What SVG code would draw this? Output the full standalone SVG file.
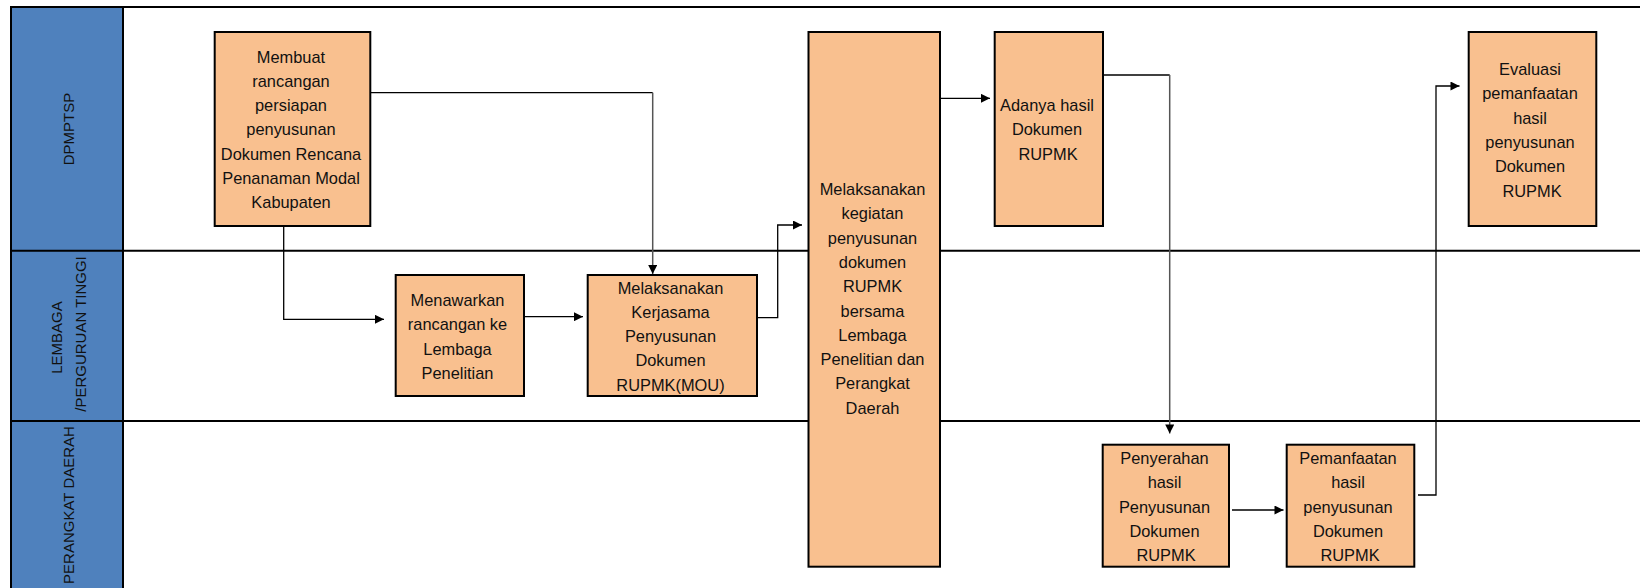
<svg xmlns="http://www.w3.org/2000/svg" width="1640" height="588" viewBox="0 0 1640 588">
<style>
.lane{fill:#ffffff;stroke:none}
.hdr{fill:#4F81BD;stroke:#000;stroke-width:2}
.ln{stroke:#000;stroke-width:2;fill:none}
.box{fill:#F9C08F;stroke:#000;stroke-width:2}
.t{font-family:"Liberation Sans",Arial,sans-serif;font-size:16.4px;fill:#111;text-anchor:middle}
.h{font-family:"Liberation Sans",Arial,sans-serif;font-size:15px;fill:#111;text-anchor:middle}
.c{stroke:#000;stroke-width:1.3;fill:none}
.cg{stroke:#555;stroke-width:1.5;fill:none}
</style>
<defs>
<marker id="ar" viewBox="0 0 10 10" refX="10" refY="5" markerWidth="10" markerHeight="9" markerUnits="userSpaceOnUse" orient="auto">
<path d="M0,0 L10,5 L0,10 Z" fill="#000"/>
</marker>
</defs>
<rect x="0" y="0" width="1640" height="588" fill="#fff"/>
<g id="lanes">
<rect class="hdr" x="11" y="7" width="112" height="590"/>
<line class="ln" x1="11" y1="7" x2="1640" y2="7"/>
<line class="ln" x1="11" y1="250.7" x2="1640" y2="250.7"/>
<line class="ln" x1="11" y1="421" x2="1640" y2="421"/>
<text class="h" transform="translate(74,129) rotate(-90)">DPMPTSP</text>
<text class="h" transform="translate(61.5,337.5) rotate(-90)">LEMBAGA</text>
<text class="h" transform="translate(86,334) rotate(-90)">/PERGURUAN TINGGI</text>
<text class="h" transform="translate(74,505) rotate(-90)">PERANGKAT DAERAH</text>
</g>
<g id="connectors">
<polyline class="c" points="370.3,92.7 652.7,92.7"/>
<polyline class="cg" points="652.7,92.7 652.7,274" marker-end="url(#ar)"/>
<polyline class="c" points="283.7,226 283.7,319.3 384,319.3" marker-end="url(#ar)"/>
<polyline class="c" points="524,316.7 583,316.7" marker-end="url(#ar)"/>
<polyline class="c" points="757,317.7 777.7,317.7 777.7,225 802,225" marker-end="url(#ar)"/>
<polyline class="c" points="940,98.3 990,98.3" marker-end="url(#ar)"/>
<polyline class="c" points="1103,75 1169.7,75"/>
<polyline class="cg" points="1169.7,75 1169.7,433.5" marker-end="url(#ar)"/>
<polyline class="c" points="1232,510 1283.5,510" marker-end="url(#ar)"/>
<polyline class="c" points="1418,495 1436,495 1436,86 1459.5,86" marker-end="url(#ar)"/>
</g>
<g id="n1">
<rect class="box" x="214.7" y="32" width="155.6" height="194"/>
<text class="t"><tspan x="291" y="62.5">Membuat</tspan><tspan x="291" y="86.8">rancangan</tspan><tspan x="291" y="111.1">persiapan</tspan><tspan x="291" y="135.4">penyusunan</tspan><tspan x="291" y="159.7">Dokumen Rencana</tspan><tspan x="291" y="184">Penanaman Modal</tspan><tspan x="291" y="208.3">Kabupaten</tspan></text>
</g>
<g id="n2">
<rect class="box" x="395.7" y="275" width="128.3" height="121"/>
<text class="t"><tspan x="457.5" y="306">Menawarkan</tspan><tspan x="457.5" y="330.3">rancangan ke</tspan><tspan x="457.5" y="354.6">Lembaga</tspan><tspan x="457.5" y="378.9">Penelitian</tspan></text>
</g>
<g id="n3">
<rect class="box" x="587.7" y="275" width="169.3" height="121"/>
<text class="t"><tspan x="670.5" y="293.5">Melaksanakan</tspan><tspan x="670.5" y="317.8">Kerjasama</tspan><tspan x="670.5" y="342.1">Penyusunan</tspan><tspan x="670.5" y="366.4">Dokumen</tspan><tspan x="670.5" y="390.7">RUPMK(MOU)</tspan></text>
</g>
<g id="n4">
<rect class="box" x="808.5" y="32" width="131.5" height="534.7"/>
<text class="t"><tspan x="872.5" y="195">Melaksanakan</tspan><tspan x="872.5" y="219.3">kegiatan</tspan><tspan x="872.5" y="243.6">penyusunan</tspan><tspan x="872.5" y="267.9">dokumen</tspan><tspan x="872.5" y="292.2">RUPMK</tspan><tspan x="872.5" y="316.5">bersama</tspan><tspan x="872.5" y="340.8">Lembaga</tspan><tspan x="872.5" y="365.1">Penelitian dan</tspan><tspan x="872.5" y="389.4">Perangkat</tspan><tspan x="872.5" y="413.7">Daerah</tspan></text>
</g>
<g id="n5">
<rect class="box" x="994.7" y="32" width="108.3" height="194"/>
<text class="t"><tspan x="1047" y="111">Adanya hasil</tspan><tspan x="1047" y="135.3">Dokumen</tspan><tspan x="1048" y="159.6">RUPMK</tspan></text>
</g>
<g id="n6">
<rect class="box" x="1102.7" y="444.7" width="126.3" height="122"/>
<text class="t"><tspan x="1164.5" y="464">Penyerahan</tspan><tspan x="1164.5" y="488.3">hasil</tspan><tspan x="1164.5" y="512.6">Penyusunan</tspan><tspan x="1164.5" y="536.9">Dokumen</tspan><tspan x="1166" y="561.2">RUPMK</tspan></text>
</g>
<g id="n7">
<rect class="box" x="1286.7" y="444.7" width="127.6" height="122"/>
<text class="t"><tspan x="1348" y="464">Pemanfaatan</tspan><tspan x="1348" y="488.3">hasil</tspan><tspan x="1348" y="512.6">penyusunan</tspan><tspan x="1348" y="536.9">Dokumen</tspan><tspan x="1350" y="561.2">RUPMK</tspan></text>
</g>
<g id="n8">
<rect class="box" x="1468.7" y="32" width="127.6" height="194"/>
<text class="t"><tspan x="1530" y="75">Evaluasi</tspan><tspan x="1530" y="99.3">pemanfaatan</tspan><tspan x="1530" y="123.6">hasil</tspan><tspan x="1530" y="147.9">penyusunan</tspan><tspan x="1530" y="172.2">Dokumen</tspan><tspan x="1532" y="196.5">RUPMK</tspan></text>
</g>
</svg>
